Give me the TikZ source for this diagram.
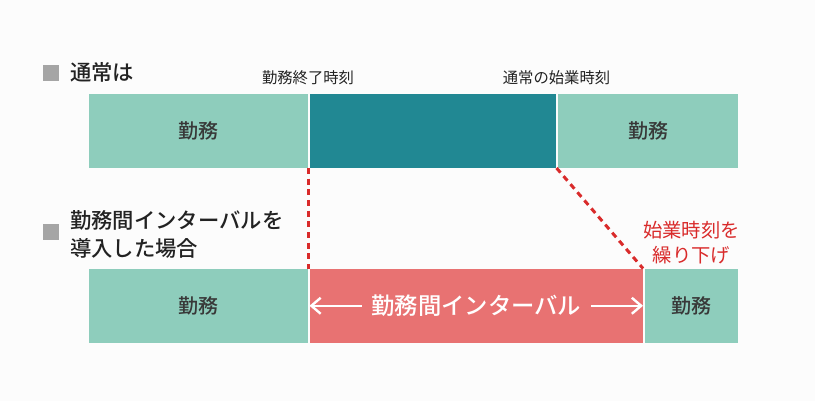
\documentclass[tikz,border=0pt]{standalone}
\usepackage{fontspec}
\setmainfont{Noto Sans CJK JP}
\newfontfamily\ivmedium{Noto Sans CJK JP Medium}
\usetikzlibrary{arrows.meta,positioning}
\definecolor{ivbg}{HTML}{FCFCFC}
\definecolor{ivink}{HTML}{222222}
\definecolor{ivwork}{HTML}{8ECDBC}
\definecolor{ivoff}{HTML}{218893}
\definecolor{ivgap}{HTML}{E87272}
\definecolor{ivred}{HTML}{D92B2B}
\definecolor{ivmark}{HTML}{A5A5A5}
\tikzset{
  iv mark/.style={fill=ivmark, minimum size=12pt, inner sep=0pt},
  iv head/.style={font=\fontsize{16pt}{21pt}\selectfont\ivmedium, text=ivink, inner sep=0pt, align=left},
  iv time/.style={font=\fontsize{11.5pt}{14pt}\selectfont, text=ivink, inner sep=0pt},
  iv bar/.style={minimum height=55.5pt, inner sep=0pt, font=\fontsize{15pt}{18pt}\selectfont\ivmedium},
  iv work/.style={iv bar, fill=ivwork, text=ivink!90},
  iv off/.style={iv bar, fill=ivoff},
  iv gap/.style={iv bar, fill=ivgap},
  iv label/.style={font=\fontsize{17.5pt}{20pt}\selectfont\ivmedium, text=white, inner xsep=7pt},
  iv arrow/.style={-{Straight Barb[length=7pt,width=12pt]}, line width=1.8pt, draw=white},
  iv dots/.style={draw=ivred, line width=2.25pt, dash pattern=on 4.5pt off 3.5pt},
  iv note/.style={font=\fontsize{14.5pt}{18.75pt}\selectfont, text=ivred, align=center, inner sep=0pt}
}
\begin{document}
\begin{tikzpicture}[x=0.75pt, y=-0.75pt]
  \fill[ivbg] (0,0) rectangle (815,401);
  % normal schedule
  \node[iv mark] (m1) at (51,72.5) {};
  \node[iv head, anchor=west] (h1) at (70,72.5) {通常は};
  \node[iv work, minimum width=164.25pt, anchor=north west] (w1) at (88.5,93.5) {勤務};
  \node[iv off, minimum width=184.9pt, right=1.1pt of w1] (off) {};
  \node[iv work, minimum width=135pt, right=1.1pt of off] (w2) {勤務};
  \node[iv time, above=6pt of w1.north east] (t1) {勤務終了時刻};
  \node[iv time, above=6pt of off.north east] (t2) {通常の始業時刻};
  % with interval
  \node[iv mark] (m2) at (51,231.5) {};
  \node[iv head, anchor=west] (h2) at (70,234) {勤務間インターバルを\\導入した場合};
  \node[iv work, minimum width=164.25pt, anchor=north west] (w3) at (88.5,268.5) {勤務};
  \node[iv gap, minimum width=249.75pt, right=1.1pt of w3] (gap) {};
  \node[iv work, minimum width=70.1pt, right=1.1pt of gap] (w4) {勤務};
  \node[iv label] (ivl) at (gap) {勤務間インターバル};
  \draw[iv arrow] (ivl.west) -- (gap.west);
  \draw[iv arrow] (ivl.east) -- (gap.east);
  \node[iv note, above=3pt of w4] (n1) {始業時刻を\\繰り下げ};
  \draw[iv dots] (w1.south east) -- (w3.north east);
  \draw[iv dots] (off.south east) -- (gap.north east);
\end{tikzpicture}
\end{document}
